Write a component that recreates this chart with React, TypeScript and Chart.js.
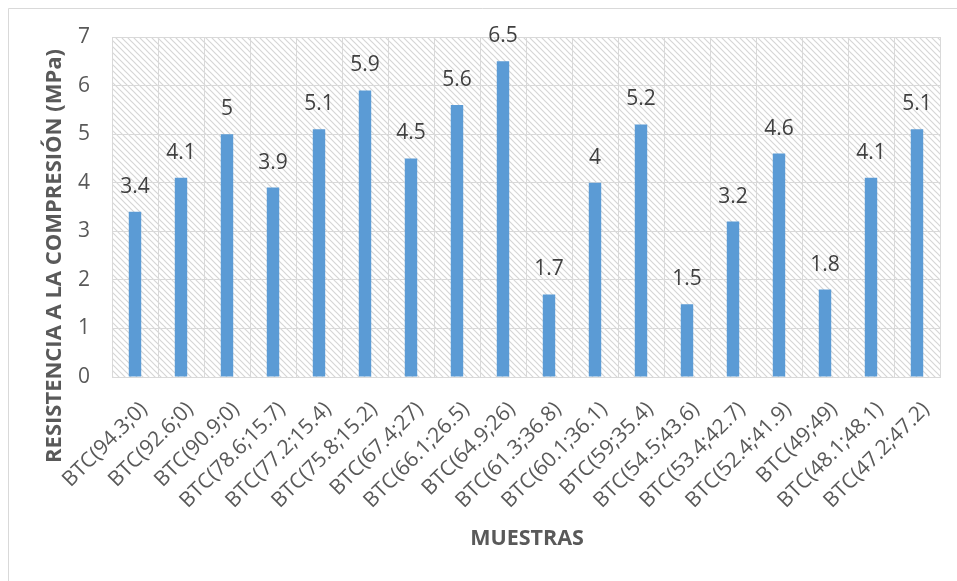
import { useEffect, useRef } from "react";
import { Chart, registerables } from "chart.js";

Chart.register(...registerables);

// Muestras (composición) y resistencia medida
const categories: string[] = [
  "BTC(94.3;0)",
  "BTC(92.6;0)",
  "BTC(90.9;0)",
  "BTC(78.6;15.7)",
  "BTC(77.2;15.4)",
  "BTC(75.8;15.2)",
  "BTC(67.4;27)",
  "BTC(66.1;26.5)",
  "BTC(64.9;26)",
  "BTC(61.3;36.8)",
  "BTC(60.1;36.1)",
  "BTC(59;35.4)",
  "BTC(54.5;43.6)",
  "BTC(53.4;42.7)",
  "BTC(52.4;41.9)",
  "BTC(49;49)",
  "BTC(48.1;48.1)",
  "BTC(47.2;47.2)",
];

const resistencia: number[] = [
  3.4, 4.1, 5, 3.9, 5.1, 5.9, 4.5, 5.6, 6.5, 1.7, 4, 5.2, 1.5, 3.2, 4.6, 1.8, 4.1, 5.1,
];

const yMin = 0;
const yMax = 7;
const yStep = 1;

const yTitle = "RESISTENCIA A LA COMPRESIÓN (MPa)";
const xTitle = "MUESTRAS";

const FONT = '"Open Sans", sans-serif';
const GRID = "#d9d9d9";
const TEXT = "#595959";
const LABEL = "#404040";
const BAR = "#5b9bd5";

function makeHatch(): CanvasPattern | string {
  const size = 6;
  const c = document.createElement("canvas");
  c.width = size;
  c.height = size;
  const g = c.getContext("2d");
  if (!g) return "#ffffff";
  g.fillStyle = "#ffffff";
  g.fillRect(0, 0, size, size);
  g.strokeStyle = "#d6d6d6";
  g.lineWidth = 1.2;
  for (const k of [-1, 0, 1]) {
    g.beginPath();
    g.moveTo(k * size - 1, -1);
    g.lineTo(k * size + size + 1, size + 1);
    g.stroke();
  }
  const p = g.createPattern(c, "repeat");
  return p ?? "#ffffff";
}

const framePlugin = {
  id: "frameAndHatch",
  beforeDraw(chart: Chart) {
    const { ctx, chartArea } = chart;
    ctx.save();
    ctx.fillStyle = "#ffffff";
    ctx.fillRect(0, 0, chart.width, chart.height);
    // outer chart frame (left and top edges visible)
    ctx.strokeStyle = GRID;
    ctx.lineWidth = 1;
    ctx.beginPath();
    ctx.moveTo(8.5, chart.height);
    ctx.lineTo(8.5, 8.5);
    ctx.lineTo(chart.width, 8.5);
    ctx.stroke();
    // hatched plot area
    ctx.fillStyle = makeHatch();
    ctx.fillRect(
      chartArea.left,
      chartArea.top,
      chartArea.right - chartArea.left,
      chartArea.bottom - chartArea.top
    );
    ctx.restore();
  },
};

const valueLabelPlugin = {
  id: "valueLabels",
  afterDatasetsDraw(chart: Chart) {
    const { ctx } = chart;
    const meta = chart.getDatasetMeta(0);
    ctx.save();
    ctx.font = `21px ${FONT}`;
    ctx.fillStyle = LABEL;
    ctx.textAlign = "center";
    ctx.textBaseline = "middle";
    meta.data.forEach((el: any, i: number) => {
      ctx.fillText(String(resistencia[i]), el.x, el.y - 25);
    });
    ctx.restore();
  },
};

const axisTitlePlugin = {
  id: "axisTitles",
  afterDraw(chart: Chart) {
    const { ctx, chartArea } = chart;
    ctx.save();
    ctx.fillStyle = TEXT;
    ctx.textAlign = "center";
    ctx.textBaseline = "middle";
    ctx.font = `bold 21.5px ${FONT}`;
    ctx.fillText(xTitle, (chartArea.left + chartArea.right) / 2 + 1, 539);
    ctx.font = `bold 22px ${FONT}`;
    ctx.translate(55, 256);
    ctx.rotate(-Math.PI / 2);
    ctx.fillText(yTitle, 0, 0);
    ctx.restore();
  },
};

export default function App() {
  const canvasRef = useRef<HTMLCanvasElement | null>(null);

  useEffect(() => {
    let chart: Chart | null = null;
    let cancelled = false;
    const build = () => {
      if (cancelled || !canvasRef.current) return;
      chart = new Chart(canvasRef.current, {
        type: "bar",
        data: {
          labels: categories,
          datasets: [
            {
              data: resistencia,
              backgroundColor: BAR,
              borderWidth: 0,
              categoryPercentage: 1,
              barPercentage: 0.27,
            },
          ],
        },
        options: {
          animation: false,
          responsive: false,
          maintainAspectRatio: false,
          layout: { padding: { top: 37, right: 17, left: 0, bottom: 0 } },
          plugins: {
            legend: { display: false },
            tooltip: { enabled: false },
            title: { display: false },
          },
          scales: {
            x: {
              offset: true,
              grid: {
                color: GRID,
                lineWidth: 1,
                offset: true,
                drawTicks: false,
              },
              border: { color: GRID, width: 1 },
              ticks: {
                autoSkip: false,
                minRotation: 45,
                maxRotation: 45,
                color: TEXT,
                padding: 20,
                labelOffset: 9,
                font: { family: FONT, size: 21 },
              },
              afterFit: (s: any) => {
                s.height = 204;
              },
            },
            y: {
              min: yMin,
              max: yMax,
              grid: { color: GRID, lineWidth: 1, drawTicks: false },
              border: { color: GRID, width: 1 },
              ticks: {
                stepSize: yStep,
                color: TEXT,
                padding: 22,
                font: { family: FONT, size: 21 },
              },
              afterFit: (s: any) => {
                s.width = 112;
              },
            },
          },
        },
        plugins: [framePlugin, valueLabelPlugin, axisTitlePlugin],
      });
    };
    const fonts = (document as any).fonts;
    if (fonts && fonts.load) {
      Promise.all([
        fonts.load(`21px "Open Sans"`),
        fonts.load(`bold 22px "Open Sans"`),
      ]).then(build, build);
    } else {
      build();
    }
    return () => {
      cancelled = true;
      if (chart) chart.destroy();
    };
  }, []);

  return (
    <div
      style={{
        position: "fixed",
        left: 0,
        top: 0,
        width: 957,
        height: 581,
        overflow: "hidden",
        background: "#ffffff",
      }}
    >
      <canvas
        ref={canvasRef}
        width={957}
        height={581}
        style={{ display: "block", width: 957, height: 581 }}
      />
    </div>
  );
}
